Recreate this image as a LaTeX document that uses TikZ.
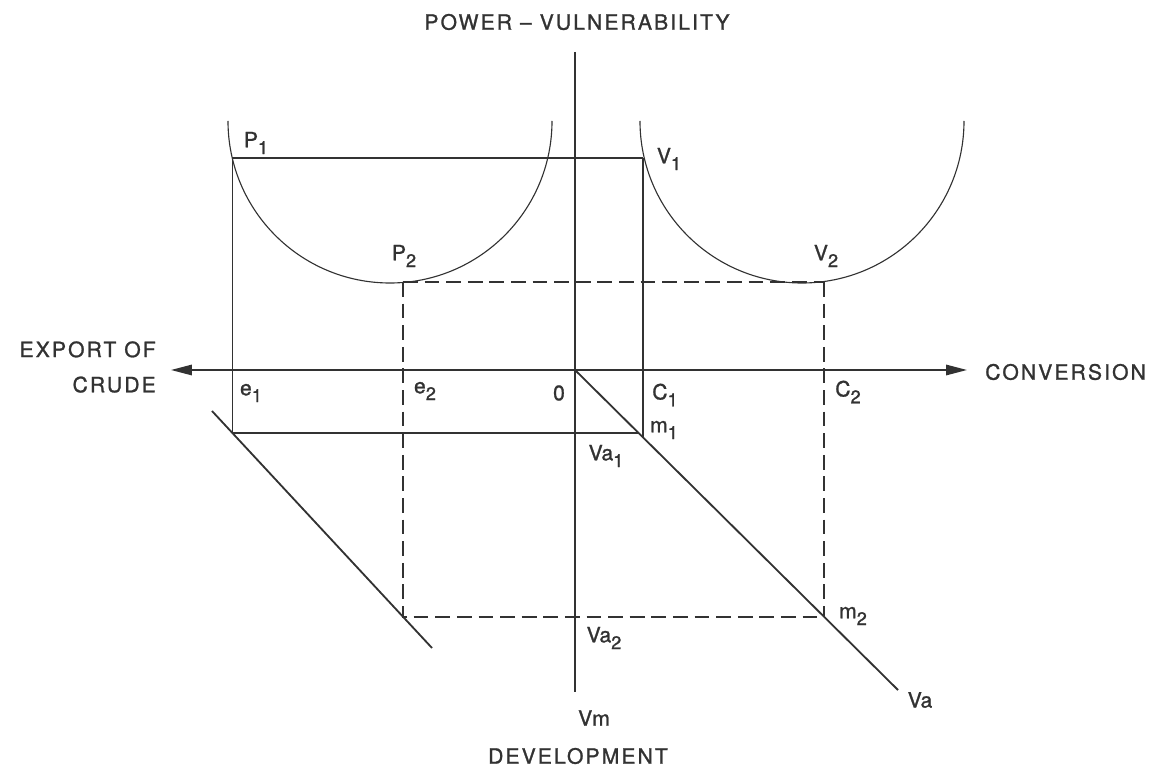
\documentclass[tikz,border=0pt]{standalone}
\usepackage{fontspec}
\setmainfont[FakeBold=1.2]{TeX Gyre Heros}
\newfontfamily\capsfont[LetterSpace=10,FakeBold=1.2]{TeX Gyre Heros}
\usepackage{tikz}
\usetikzlibrary{arrows.meta}
\definecolor{inkgray}{RGB}{50,50,50}
\newcommand{\idx}[2]{#1\raisebox{-0.17cm}{\fontsize{13}{13}\selectfont #2}}
\tikzset{
  axisline/.style={draw=inkgray,line width=1.1pt},
  axisarrow/.style={axisline,-{Triangle[length=5.2mm,width=2.6mm]}},
  curveline/.style={draw=inkgray,line width=0.8pt},
  guideline/.style={draw=inkgray,line width=0.8pt},
  guidedash/.style={guideline,dash pattern=on 3.7mm off 1.7mm},
  rayline/.style={draw=inkgray,line width=1.3pt},
  axislabel/.style={font=\capsfont\fontsize{15}{25}\selectfont,text=inkgray,inner sep=0pt},
  pointlabel/.style={font=\fontsize{15}{17}\selectfont,text=inkgray,inner sep=0pt}
}

\begin{document}
\begin{tikzpicture}[x=0.025cm,y=-0.025cm]
  \useasboundingbox (0,0) rectangle (1153,773);
  \coordinate (O) at (575,370);
  \coordinate (west) at (171,370);
  \coordinate (east) at (967,370);
  \coordinate (north) at (575,52);
  \coordinate (south) at (575,692);
  \coordinate (pstart) at (228,121);
  \coordinate (vstart) at (640,121);
  \coordinate (P1) at (232.3,158);
  \coordinate (V1) at (643,158);
  \coordinate (P2) at (403,282);
  \coordinate (V2) at (824,282);
  \coordinate (e1) at (232.3,433);
  \coordinate (m1) at (638.6,433);
  \coordinate (c1) at (643,437.3);
  \coordinate (e2) at (403,617);
  \coordinate (m2) at (824,617);
  \coordinate (Va) at (898,690);
  \coordinate (lowA) at (212,411);
  \coordinate (lowB) at (432,648);

  \draw[axisarrow] (O) -- (west);
  \draw[axisarrow] (O) -- (east);
  \draw[axisline] (north) -- (south);
  \draw[curveline] (pstart) arc[start angle=180,end angle=0,radius=162];
  \draw[curveline] (vstart) arc[start angle=180,end angle=0,radius=162];
  \draw[guideline] (P1) -- (V1);
  \draw[guideline] (P1) -- (e1) -- (m1);
  \draw[guideline] (V1) -- (c1);
  \draw[guidedash] (P2) -- (V2);
  \draw[guidedash] (P2) -- (e2) -- (m2);
  \draw[guidedash] (V2) -- (m2);
  \draw[rayline] (O) -- (Va);
  \draw[rayline] (lowA) -- (lowB);

  \node[axislabel] (ltop) at (577,22) {POWER – VULNERABILITY};
  \node[axislabel,align=right,anchor=east] (lwest) at (156,367) {EXPORT OF\\CRUDE};
  \node[axislabel,anchor=west] (least) at (985,372) {CONVERSION};
  \node[axislabel] (lsouth) at (578,756) {DEVELOPMENT};

  \node[pointlabel] (lP1) at (256,143) {\idx{P}{1}};
  \node[pointlabel] (lP2) at (404,256) {\idx{P}{2}};
  \node[pointlabel] (lV1) at (669,159) {\idx{V}{1}};
  \node[pointlabel] (lV2) at (826,256) {\idx{V}{2}};
  \node[pointlabel] (le1) at (251,393) {\idx{e}{1}};
  \node[pointlabel] (le2) at (425,391) {\idx{e}{2}};
  \node[pointlabel] (lO) at (559,393) {0};
  \node[pointlabel] (lC1) at (665,395) {\idx{C}{1}};
  \node[pointlabel] (lC2) at (848,392) {\idx{C}{2}};
  \node[pointlabel] (lm1) at (664,430) {\idx{m}{1}};
  \node[pointlabel] (lVa1) at (606,456) {\idx{Va}{1}};
  \node[pointlabel] (lVa2) at (604,638) {\idx{Va}{2}};
  \node[pointlabel] (lm2) at (853,616) {\idx{m}{2}};
  \node[pointlabel] (lVm) at (594,718) {Vm};
  \node[pointlabel] (lVa) at (920,700) {Va};
\end{tikzpicture}
\end{document}
